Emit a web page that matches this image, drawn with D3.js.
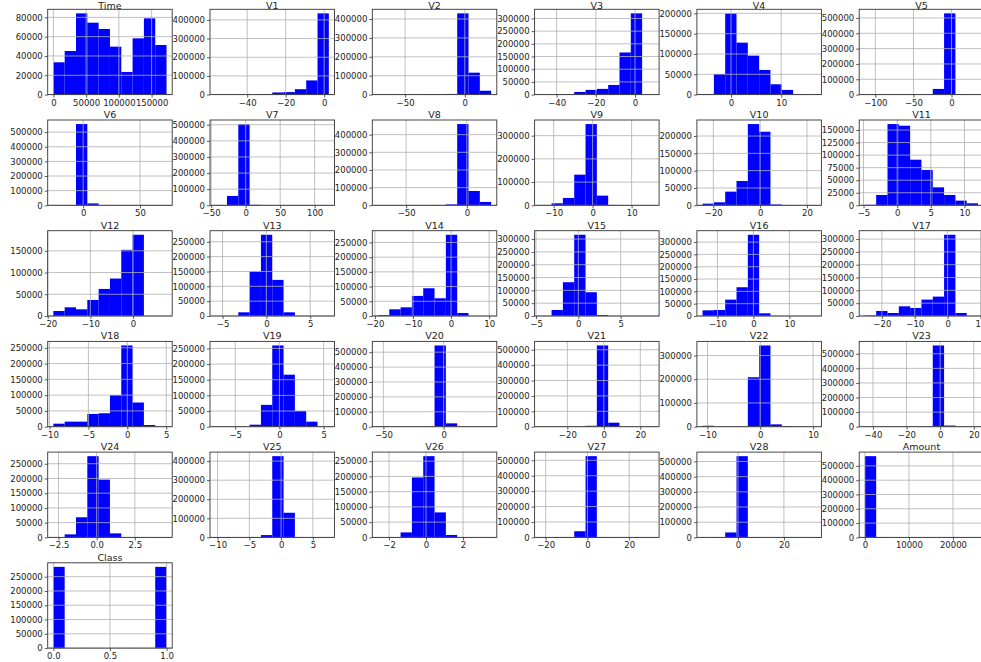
<!DOCTYPE html>
<html>
<head>
<meta charset="utf-8">
<script src="https://cdn.jsdelivr.net/npm/d3@7"></script>
<style>
  body { margin: 0; background: #ffffff; }
  svg { display: block; }
  text { font-family: "DejaVu Sans", sans-serif; fill: #222222; }
</style>
</head>
<body>
<svg id="chart" width="981" height="662"></svg>
<script>
// Histogram grid: one panel per column of the transaction table (10 equal-width bins each).
const columns = ["Time","V1","V2","V3","V4","V5","V6","V7","V8","V9","V10","V11",
  "V12","V13","V14","V15","V16","V17","V18","V19","V20","V21","V22","V23",
  "V24","V25","V26","V27","V28","Amount","Class"];

// Lower and upper edge of the binned range for each column
const binLow = [0, -56.41, -72.72, -48.33, -5.68, -113.74, -26.16, -43.56, -73.22, -13.43, -24.59, -4.80,
  -18.68, -5.79, -19.21, -4.50, -14.13, -25.16, -9.50, -7.21, -54.50, -34.83, -10.93, -44.81,
  -2.84, -10.30, -2.60, -22.57, -15.43, 0, 0];
const binHigh = [172792, 2.45, 22.06, 9.38, 16.88, 34.80, 73.30, 120.59, 20.01, 15.59, 23.75, 12.02,
  7.85, 7.13, 10.53, 8.88, 17.32, 9.25, 5.04, 5.59, 39.42, 27.20, 10.50, 22.53,
  4.58, 7.52, 3.52, 31.61, 33.85, 25691.16, 1];

// Counts per bin (10 bins per column)
const counts = [
  [33450, 45170, 84140, 74480, 67930, 49660, 23450, 58280, 78970, 51380],
  [40, 120, 300, 800, 2800, 11500, 13500, 29000, 76000, 435000],
  [50, 100, 150, 300, 600, 1000, 3500, 430000, 116000, 20500],
  [60, 300, 1800, 10500, 18500, 22500, 38000, 166000, 320000, 150],
  [1500, 50800, 200000, 127900, 95900, 60700, 25400, 11500, 1000, 200],
  [10, 20, 40, 80, 150, 400, 37000, 530000, 3000, 100],
  [100, 1500, 555000, 13000, 200, 60, 30, 20, 10, 5],
  [2000, 58000, 504000, 3000, 80, 30, 20, 10, 5, 5],
  [50, 100, 200, 1500, 1500, 1800, 5000, 460000, 81000, 19000],
  [500, 8600, 31600, 132000, 350000, 41600, 1500, 300, 100, 50],
  [4800, 8600, 39400, 70200, 234600, 212500, 2500, 600, 100, 50],
  [1000, 20600, 161900, 158600, 90900, 70300, 35800, 20600, 9300, 4000],
  [11500, 20000, 15400, 36900, 62300, 86200, 152300, 187000, 60, 10],
  [50, 300, 12400, 149800, 273600, 121600, 12400, 300, 30, 10],
  [3000, 22700, 29500, 68200, 94300, 60200, 276100, 10200, 30, 10],
  [500, 23500, 131700, 316800, 92600, 3500, 100, 30, 10, 5],
  [23000, 24400, 66500, 116700, 329700, 10900, 500, 100, 30, 10],
  [2000, 19600, 11700, 37800, 31300, 63900, 75600, 316800, 11700, 200],
  [9600, 16000, 16000, 40400, 42600, 100000, 257400, 76600, 5300, 200],
  [20, 60, 300, 6400, 69700, 259400, 166100, 50400, 16100, 150],
  [5, 10, 20, 50, 1500, 545000, 22500, 150, 30, 10],
  [5, 10, 30, 500, 6000, 528000, 26000, 200, 50, 2000],
  [4000, 50, 100, 1000, 208500, 342300, 9900, 3000, 100, 20],
  [5, 10, 20, 50, 300, 2000, 557000, 8000, 100, 20],
  [300, 10300, 68300, 275600, 195900, 13700, 500, 100, 30, 10],
  [20, 50, 200, 1500, 12200, 425800, 129100, 800, 50, 10],
  [100, 500, 16400, 196500, 266400, 82000, 8000, 300, 50, 10],
  [30, 60, 300, 40000, 527000, 1000, 50, 20, 10, 5],
  [100, 400, 32500, 535000, 800, 100, 30, 10, 5, 5],
  [568000, 400, 100, 30, 10, 5, 3, 2, 1, 1],
  [284315, 0, 0, 0, 0, 0, 0, 0, 0, 284315]
];

// Tick values for each panel
const xTicks = [
  [0, 50000, 100000, 150000], [-40, -20, 0], [-50, 0], [-40, -20, 0], [0, 10], [-100, -50, 0],
  [0, 50], [-50, 0, 50, 100], [-50, 0], [-10, 0, 10], [-20, 0, 20], [-5, 0, 5, 10],
  [-20, -10, 0], [-5, 0, 5], [-20, -10, 0, 10], [-5, 0, 5], [-10, 0, 10], [-20, -10, 0, 10],
  [-10, -5, 0, 5], [-5, 0, 5], [-50, 0], [-20, 0, 20], [-10, 0, 10], [-40, -20, 0, 20],
  [-2.5, 0, 2.5], [-10, -5, 0, 5], [-2, 0, 2], [-20, 0, 20], [0, 20], [0, 10000, 20000],
  [0, 0.5, 1]
];
const yTicks = [
  [0, 20000, 40000, 60000, 80000],
  [0, 100000, 200000, 300000, 400000],
  [0, 100000, 200000, 300000, 400000],
  [0, 50000, 100000, 150000, 200000, 250000, 300000],
  [0, 50000, 100000, 150000, 200000],
  [0, 100000, 200000, 300000, 400000, 500000],
  [0, 100000, 200000, 300000, 400000, 500000],
  [0, 100000, 200000, 300000, 400000, 500000],
  [0, 100000, 200000, 300000, 400000],
  [0, 100000, 200000, 300000],
  [0, 50000, 100000, 150000, 200000],
  [0, 25000, 50000, 75000, 100000, 125000, 150000],
  [0, 50000, 100000, 150000],
  [0, 50000, 100000, 150000, 200000, 250000],
  [0, 50000, 100000, 150000, 200000, 250000],
  [0, 50000, 100000, 150000, 200000, 250000, 300000],
  [0, 50000, 100000, 150000, 200000, 250000, 300000],
  [0, 50000, 100000, 150000, 200000, 250000, 300000],
  [0, 50000, 100000, 150000, 200000, 250000],
  [0, 50000, 100000, 150000, 200000, 250000],
  [0, 100000, 200000, 300000, 400000, 500000],
  [0, 100000, 200000, 300000, 400000, 500000],
  [0, 100000, 200000, 300000],
  [0, 100000, 200000, 300000, 400000, 500000],
  [0, 50000, 100000, 150000, 200000, 250000],
  [0, 100000, 200000, 300000, 400000],
  [0, 50000, 100000, 150000, 200000, 250000],
  [0, 100000, 200000, 300000, 400000, 500000],
  [0, 100000, 200000, 300000, 400000, 500000],
  [0, 100000, 200000, 300000, 400000, 500000],
  [0, 50000, 100000, 150000, 200000, 250000]
];

// Panel layout
const nCols = 6;
const colLeft0 = 47.7, colPitch = 162.3, axW = 124.5;
const rowTop0 = 9.3, rowPitch = 110.7, axH = 85.3;
const titleSize = 9.5;
const barColor = "#0000ff";
const gridColor = "#b0b0b0";
const spineColor = "#333333";

const svg = d3.select("#chart");

function tickFormatter(values) {
  const decimal = values.some(v => !Number.isInteger(v));
  return v => (decimal ? v.toFixed(1) : String(v)).replace("-", "\u2212");
}

columns.forEach((name, i) => {
  const r = Math.floor(i / nCols), c = i % nCols;
  const left = colLeft0 + c * colPitch;
  const top = rowTop0 + r * rowPitch;
  const lo = binLow[i], hi = binHigh[i], span = hi - lo;
  const edges = d3.range(11).map(k => lo + span * k / 10);
  const bins = counts[i].map((n, k) => ({ n, x0: edges[k], x1: edges[k + 1] }));

  const x = d3.scaleLinear().domain([lo - 0.05 * span, hi + 0.05 * span]).range([0, axW]);
  const y = d3.scaleLinear().domain([0, d3.max(counts[i]) * 1.05]).range([axH, 0]);

  const g = svg.append("g").attr("transform", `translate(${left},${top})`);

  // bars
  g.append("g").selectAll("rect")
    .data(bins.filter(b => b.n > 0))
    .join("rect")
    .attr("x", b => x(b.x0))
    .attr("width", b => x(b.x1) - x(b.x0))
    .attr("y", b => y(b.n))
    .attr("height", b => axH - y(b.n))
    .attr("fill", barColor);

  // grid lines drawn over the bars
  const grid = g.append("g").attr("stroke", gridColor).attr("stroke-width", 0.8);
  grid.selectAll("line.gx").data(xTicks[i]).join("line")
    .attr("x1", d => x(d)).attr("x2", d => x(d))
    .attr("y1", 0).attr("y2", axH);
  grid.selectAll("line.gy").data(yTicks[i]).join("line")
    .attr("x1", 0).attr("x2", axW)
    .attr("y1", d => y(d)).attr("y2", d => y(d));

  // axes
  const xAxis = d3.axisBottom(x).tickValues(xTicks[i]).tickSize(3).tickSizeOuter(0)
    .tickPadding(2).tickFormat(tickFormatter(xTicks[i]));
  const yAxis = d3.axisLeft(y).tickValues(yTicks[i]).tickSize(3).tickSizeOuter(0)
    .tickPadding(2).tickFormat(tickFormatter(yTicks[i]));

  const gx = g.append("g").attr("transform", `translate(0,${axH})`).call(xAxis);
  const gy = g.append("g").call(yAxis);
  [gx, gy].forEach(a => {
    a.select(".domain").remove();
    a.selectAll(".tick line").attr("stroke", spineColor).attr("stroke-width", 0.8);
    a.selectAll(".tick text").attr("font-size", 8.5).attr("fill", "#222222")
      .style("font-family", "'DejaVu Sans', sans-serif");
  });

  // frame
  g.append("rect")
    .attr("x", 0).attr("y", 0).attr("width", axW).attr("height", axH)
    .attr("fill", "none").attr("stroke", spineColor).attr("stroke-width", 0.9);

  // title (kept inside the page for the top row)
  const titleY = Math.max(-2, 0.93 * titleSize - top);
  g.append("text")
    .attr("x", axW / 2).attr("y", titleY)
    .attr("text-anchor", "middle")
    .attr("font-size", titleSize)
    .text(name);
});
</script>
</body>
</html>
